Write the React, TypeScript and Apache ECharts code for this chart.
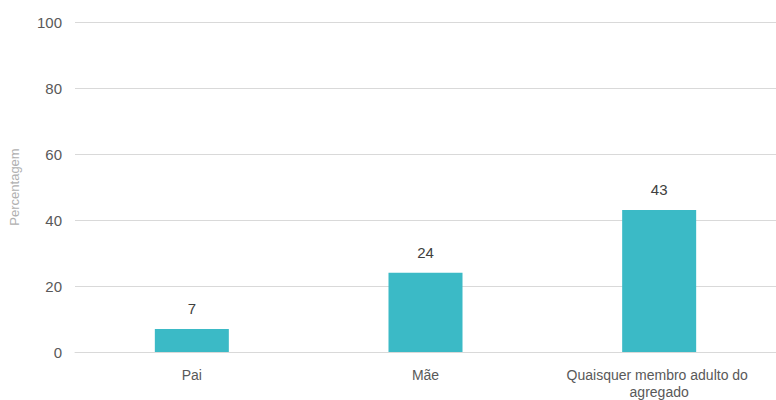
import React, { useEffect, useRef } from "react";
import * as echarts from "echarts";

const categories = ["Pai", "Mãe", "Quaisquer membro adulto do agregado"];
const values = [7, 24, 43];
const yTicks = { min: 0, max: 100, interval: 20 };
const yTitle = "Percentagem";

export default function App() {
  const ref = useRef<HTMLDivElement>(null);
  useEffect(() => {
    if (!ref.current) return;
    const chart = echarts.init(ref.current, undefined, { renderer: "svg" });
    const font = "'Liberation Sans', Arial, sans-serif";
    chart.setOption({
      animation: false,
      textStyle: { fontFamily: font },
      grid: { left: 74, right: -6, top: 22, bottom: 44, containLabel: false },
      xAxis: {
        type: "category",
        data: categories,
        axisLine: { show: true, lineStyle: { color: "#d9d9d9", width: 1 } },
        axisTick: { show: false },
        axisLabel: {
          color: "#595959",
          fontSize: 14,
          fontFamily: font,
          margin: 14,
          width: 210,
          overflow: "break",
          lineHeight: 17,
          interval: 0,
        },
      },
      yAxis: {
        type: "value",
        min: yTicks.min,
        max: yTicks.max,
        interval: yTicks.interval,
        name: yTitle,
        nameLocation: "middle",
        nameGap: 54,
        nameTextStyle: { color: "#b0b0b0", fontSize: 13, fontFamily: font },
        axisLine: { show: false },
        axisTick: { show: false },
        axisLabel: { color: "#595959", fontSize: 15, fontFamily: font, margin: 13 },
        splitLine: { lineStyle: { color: "#d9d9d9", width: 1 } },
      },
      series: [
        {
          type: "bar",
          data: values,
          barWidth: 74,
          itemStyle: { color: "#3bbac6" },
          label: {
            show: true,
            position: "top",
            distance: 13,
            color: "#404040",
            fontSize: 15,
            fontFamily: font,
          },
        },
      ],
    });
    return () => chart.dispose();
  }, []);
  return <div ref={ref} style={{ width: 776, height: 400, position: "absolute", left: 0, top: 0 }} />;
}
